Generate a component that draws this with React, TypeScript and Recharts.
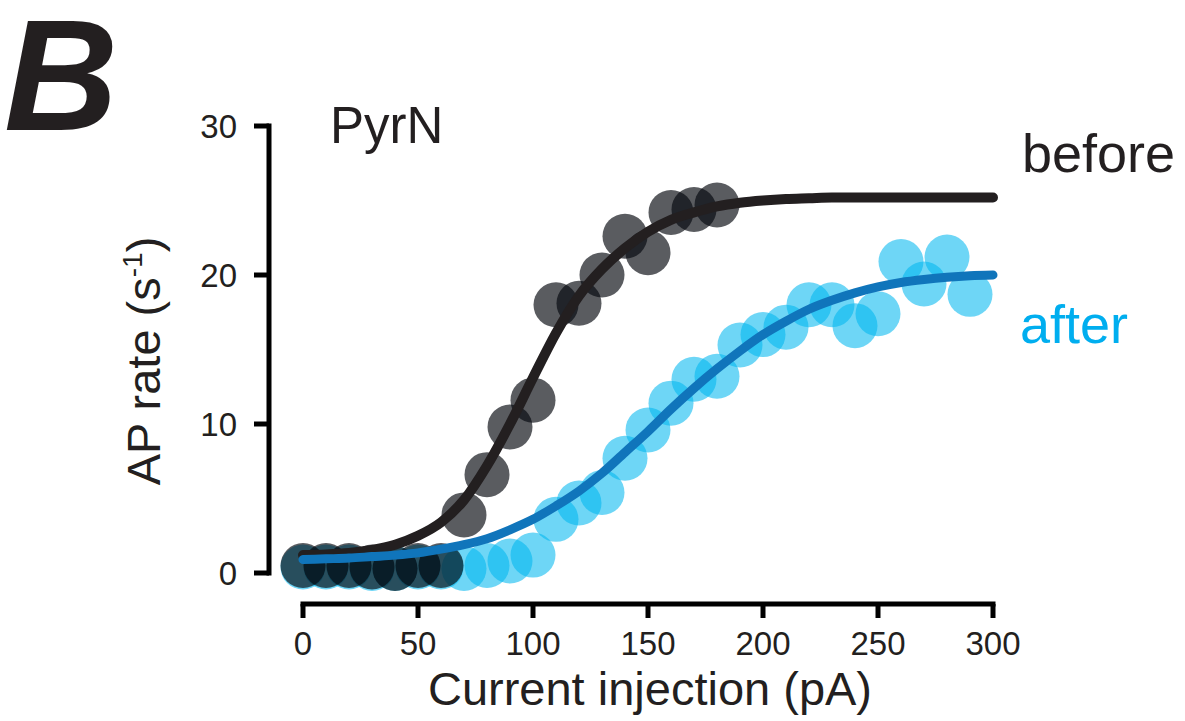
import React from 'react'
import { ComposedChart, Scatter, Line, XAxis, YAxis } from 'recharts'

// ─── data ─────────────────────────────────────────────────────────────────────

const currentSteps = [0, 10, 20, 30, 40, 50, 60, 70, 80, 90, 100, 110, 120, 130, 140, 150, 160, 170, 180, 190, 200, 210, 220, 230, 240, 250, 260, 270, 280, 290, 300]

// measured AP rate (s-1) per current step
const beforeRates = [0.5, 0.5, 0.5, 0.4, 0.3, 0.5, 0.5, 3.9, 6.6, 9.8, 11.6, 18.0, 18.1, 20.0, 22.6, 21.5, 24.2, 24.4, 24.7]
const afterRates = [0.4, 0.4, 0.4, 0.3, 0.3, 0.4, 0.4, 0.3, 0.5, 0.8, 1.2, 3.6, 4.7, 5.4, 7.7, 9.6, 11.4, 13.0, 13.2, 15.3, 16.0, 16.5, 18.0, 18.0, 16.6, 17.4, 20.9, 19.4, 21.2, 18.7]

// fitted curves at each current step
const beforeFit = [1.2, 1.25, 1.35, 1.55, 1.9, 2.5, 3.4, 4.9, 7.2, 10.0, 13.1, 16.1, 18.6, 20.4, 21.8, 22.9, 23.7, 24.2, 24.6, 24.85, 25.0, 25.1, 25.15, 25.2, 25.2, 25.2, 25.2, 25.2, 25.2, 25.2, 25.2]
const afterFit = [0.9, 0.95, 1.0, 1.1, 1.2, 1.35, 1.6, 1.9, 2.3, 2.9, 3.6, 4.5, 5.5, 6.7, 8.1, 9.5, 11.0, 12.4, 13.7, 14.9, 16.0, 16.9, 17.7, 18.3, 18.8, 19.2, 19.5, 19.7, 19.85, 19.95, 20.0]

const xTicks = [0, 50, 100, 150, 200, 250, 300]
const yTicks = [0, 10, 20, 30]

const beforePts = beforeRates.map((y, i) => ({ x: currentSteps[i], y }))
const afterPts = afterRates.map((y, i) => ({ x: currentSteps[i], y }))
const beforeCurve = beforeFit.map((y, i) => ({ x: currentSteps[i], y }))
const afterCurve = afterFit.map((y, i) => ({ x: currentSteps[i], y }))

const FONT = '"Liberation Sans", Arial, Helvetica, sans-serif'
const INK = '#231f20'
const axisStyle = { stroke: '#000', strokeWidth: 5, strokeLinecap: 'square' as const }
const tickLineStyle = { stroke: '#000', strokeWidth: 5 }

const bubble = (fill: string, opacity: number) => (p: any) => (
  <circle cx={p.cx} cy={p.cy} r={22.5} fill={fill} fillOpacity={opacity} />
)

function YTitle() {
  return (
    <text x={160} y={361} transform="rotate(-90 160 361)" textAnchor="middle"
      fontFamily={FONT} fontSize={47} fill={INK}>
      AP rate (s<tspan fontSize={28} dy={-18}>-1</tspan><tspan dy={18}>)</tspan>
    </text>
  )
}

export default function App() {
  return (
    <div style={{ position: 'absolute', left: 0, top: 0, width: 1185, height: 721, background: '#fff' }}>
      <ComposedChart width={1185} height={721} margin={{ top: 126, right: 192, bottom: 57, left: 209 }}>
        {/* spacer axes first so the visible axes sit detached from the plot */}
        <XAxis xAxisId="pad" type="number" domain={[0, 300]} height={31} axisLine={false} tickLine={false} tick={false} />
        <YAxis yAxisId="pad" type="number" domain={[0, 30]} width={34} axisLine={false} tickLine={false} tick={false} />
        <XAxis xAxisId="x" dataKey="x" type="number" domain={[0, 300]} ticks={xTicks} height={60}
          axisLine={axisStyle} tickLine={tickLineStyle} tickSize={14} tickMargin={14}
          tick={{ fontSize: 33, fill: INK, fontFamily: FONT }} />
        <YAxis yAxisId="y" dataKey="y" type="number" domain={[0, 30]} ticks={yTicks} width={60}
          axisLine={axisStyle} tickLine={tickLineStyle} tickSize={15} tickMargin={17}
          tick={{ fontSize: 33, fill: INK, fontFamily: FONT }} />

        <Scatter xAxisId="x" yAxisId="y" data={afterPts} shape={bubble('#00b7f0', 0.57)} zIndex={610} isAnimationActive={false} />
        <Scatter xAxisId="x" yAxisId="y" data={beforePts} shape={bubble('#05070d', 0.66)} zIndex={620} isAnimationActive={false} />
        <Line xAxisId="x" yAxisId="y" data={beforeCurve} dataKey="y" type="monotone" stroke={INK} strokeWidth={10}
          strokeLinecap="round" dot={false} activeDot={false} zIndex={630} isAnimationActive={false} />
        <Line xAxisId="x" yAxisId="y" data={afterCurve} dataKey="y" type="monotone" stroke="#1075bb" strokeWidth={9}
          strokeLinecap="round" dot={false} activeDot={false} zIndex={640} isAnimationActive={false} />

        <YTitle />
        <text x={650} y={705} textAnchor="middle" fontFamily={FONT} fontSize={47} fill={INK}>Current injection (pA)</text>
        <text x={4} y={130} fontFamily={FONT} fontSize={158} fontWeight="bold" fontStyle="italic" fill={INK}>B</text>
        <text x={330} y={143} fontFamily={FONT} fontSize={51} fill={INK}>PyrN</text>
        <text x={1022} y={172} fontFamily={FONT} fontSize={54} fill={INK}>before</text>
        <text x={1020} y={343} fontFamily={FONT} fontSize={54} fill="#00aeef">after</text>
      </ComposedChart>
    </div>
  )
}
